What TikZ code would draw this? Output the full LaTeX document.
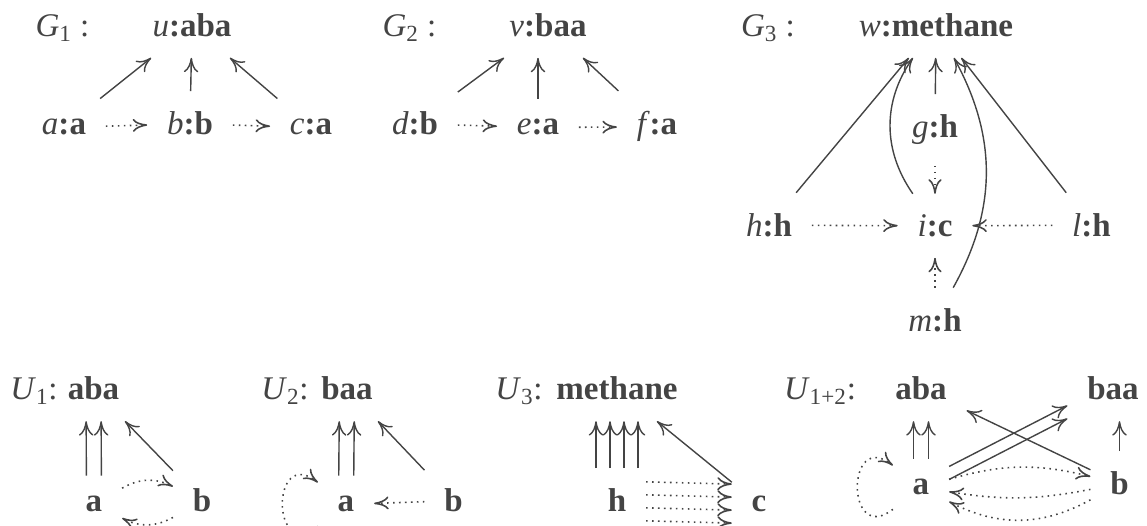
\documentclass[tikz,border=0pt]{standalone}
\usepackage{fontspec}
\setmainfont{Liberation Serif}
\usepackage{tikz}
\usetikzlibrary{arrows.meta}
\definecolor{inkgray}{RGB}{68,68,68}
\newcommand{\fsz}{\fontsize{18.8}{22}\selectfont}

\begin{document}
\begin{tikzpicture}[
    color=inkgray, font=\fsz,
    obj/.style={anchor=base, inner xsep=0.39cm, inner ysep=0.41cm},
    lbl/.style={anchor=base, inner sep=0pt},
    arr/.style={-{To[length=2.9mm,width=2.9mm]}, line width=0.8pt},
    dotarr/.style={-{To[length=2.9mm,width=2.6mm]}, line width=0.9pt, dash pattern=on 0.9pt off 2.5pt},
    selfloop/.style={out=218, in=142, looseness=3.5}]
    \useasboundingbox (0,0) rectangle (22.94,10.52);

    % G_1
    \node[lbl] (g1lbl) at (1.25,9.79) {\textit{G}\textsubscript{1} :};
    \node[obj] (u) at (3.84,9.79) {\textit{u}\textbf{:aba}};
    \node[obj] (a) at (1.28,7.82) {\textit{a}\textbf{:a}};
    \node[obj] (b) at (3.80,7.82) {\textit{b}\textbf{:b}};
    \node[obj] (c) at (6.22,7.82) {\textit{c}\textbf{:a}};
    \draw[arr] (a) -- (u); \draw[arr] (b) -- (u); \draw[arr] (c) -- (u);
    \draw[dotarr] (a) -- (b); \draw[dotarr] (b) -- (c);

    % G_2
    \node[lbl] (g2lbl) at (8.19,9.79) {\textit{G}\textsubscript{2} :};
    \node[obj] (v) at (10.96,9.79) {\textit{v}\textbf{:baa}};
    \node[obj] (d) at (8.30,7.82) {\textit{d}\textbf{:b}};
    \node[obj] (e) at (10.76,7.82) {\textit{e}\textbf{:a}};
    \node[obj] (f) at (13.14,7.82) {\textit{f}\textbf{:a}};
    \draw[arr] (d) -- (v); \draw[arr] (e) -- (e |- v.south); \draw[arr] (f) -- (v);
    \draw[dotarr] (d) -- (e); \draw[dotarr] (e) -- (f);

    % G_3
    \node[lbl] (g3lbl) at (15.36,9.79) {\textit{G}\textsubscript{3} :};
    \node[obj] (w) at (18.72,9.79) {\textit{w}\textbf{:methane}};
    \node[obj] (g) at (18.70,7.76) {\textit{g}\textbf{:h}};
    \node[obj] (h) at (15.38,5.79) {\textit{h}\textbf{:h}};
    \node[obj] (i) at (18.70,5.79) {\textit{i}\textbf{:c}};
    \node[obj] (l) at (21.83,5.79) {\textit{l}\textbf{:h}};
    \node[obj] (m) at (18.70,3.89) {\textit{m}\textbf{:h}};
    \draw[arr] (h) -- (w); \draw[arr] (i) to[bend left=35] (w); \draw[arr] (g) -- (w);
    \draw[arr] (m) to[bend right=29] (w); \draw[arr] (l) -- (w);
    \draw[dotarr] (g) -- (i); \draw[dotarr] (h) -- (i);
    \draw[dotarr] (l) -- (i); \draw[dotarr] (m) -- (i);

    % U_1
    \node[lbl] (u1lbl) at (0.68,2.52) {\textit{U}\textsubscript{1}:};
    \node[obj] (aba1) at (1.87,2.52) {\textbf{aba}};
    \node[obj] (a1) at (1.88,0.28) {\textbf{a}};
    \node[obj] (b1) at (4.04,0.28) {\textbf{b}};
    \foreach \s in {-0.15,0.15}
        \draw[arr, transform canvas={xshift=\s cm}] (a1) -- (aba1);
    \draw[arr] (b1) -- (aba1);
    \draw[dotarr] (a1) to[bend left=28] (b1);
    \draw[dotarr] (b1) to[bend left=28] (a1);

    % U_2
    \node[lbl] (u2lbl) at (5.70,2.52) {\textit{U}\textsubscript{2}:};
    \node[obj] (baa2) at (6.94,2.52) {\textbf{baa}};
    \node[obj] (a2) at (6.92,0.28) {\textbf{a}};
    \node[obj] (b2) at (9.07,0.28) {\textbf{b}};
    \foreach \s in {-0.15,0.15}
        \draw[arr, transform canvas={xshift=\s cm}] (a2) -- (baa2);
    \draw[arr] (b2) -- (baa2);
    \draw[dotarr] (b2) -- (a2);
    \draw[dotarr] (a2) to[selfloop] (a2);

    % U_3
    \node[lbl] (u3lbl) at (10.38,2.52) {\textit{U}\textsubscript{3}:};
    \node[obj] (meth3) at (12.34,2.52) {\textbf{methane}};
    \node[obj] (h3) at (12.34,0.28) {\textbf{h}};
    \node[obj] (c3) at (15.18,0.28) {\textbf{c}};
    \foreach \s in {-0.42,-0.14,0.14,0.42}
        \draw[arr, transform canvas={xshift=\s cm}] (h3) -- (meth3);
    \draw[arr] (c3) -- (meth3);
    \foreach \s in {-0.39,-0.13,0.13,0.39}
        \draw[dotarr, transform canvas={yshift=\s cm}] (h3) -- (c3);

    % U_{1+2}
    \node[lbl] (u12lbl) at (16.40,2.52) {\textit{U}\textsubscript{1+2}:};
    \node[obj] (aba12) at (18.42,2.52) {\textbf{aba}};
    \node[obj] (baa12) at (22.26,2.52) {\textbf{baa}};
    \node[obj] (a12) at (18.42,0.62) {\textbf{a}};
    \node[obj] (b12) at (22.39,0.62) {\textbf{b}};
    \foreach \s in {-0.15,0.15}
        \draw[arr, transform canvas={xshift=\s cm}] (a12) -- (aba12);
    \draw[arr] (b12) -- (aba12);
    \foreach \s in {-0.13,0.13}
        \draw[arr, transform canvas={yshift=\s cm}] (a12) -- (baa12);
    \draw[arr] (b12) -- (b12 |- baa12.south);
    \draw[dotarr] (a12) to[bend left=15] (b12);
    \draw[dotarr] (b12) to[bend left=10] (a12);
    \draw[dotarr] (b12) to[bend left=28] (a12);
    \draw[dotarr] (a12) to[selfloop] (a12);
\end{tikzpicture}
\end{document}
